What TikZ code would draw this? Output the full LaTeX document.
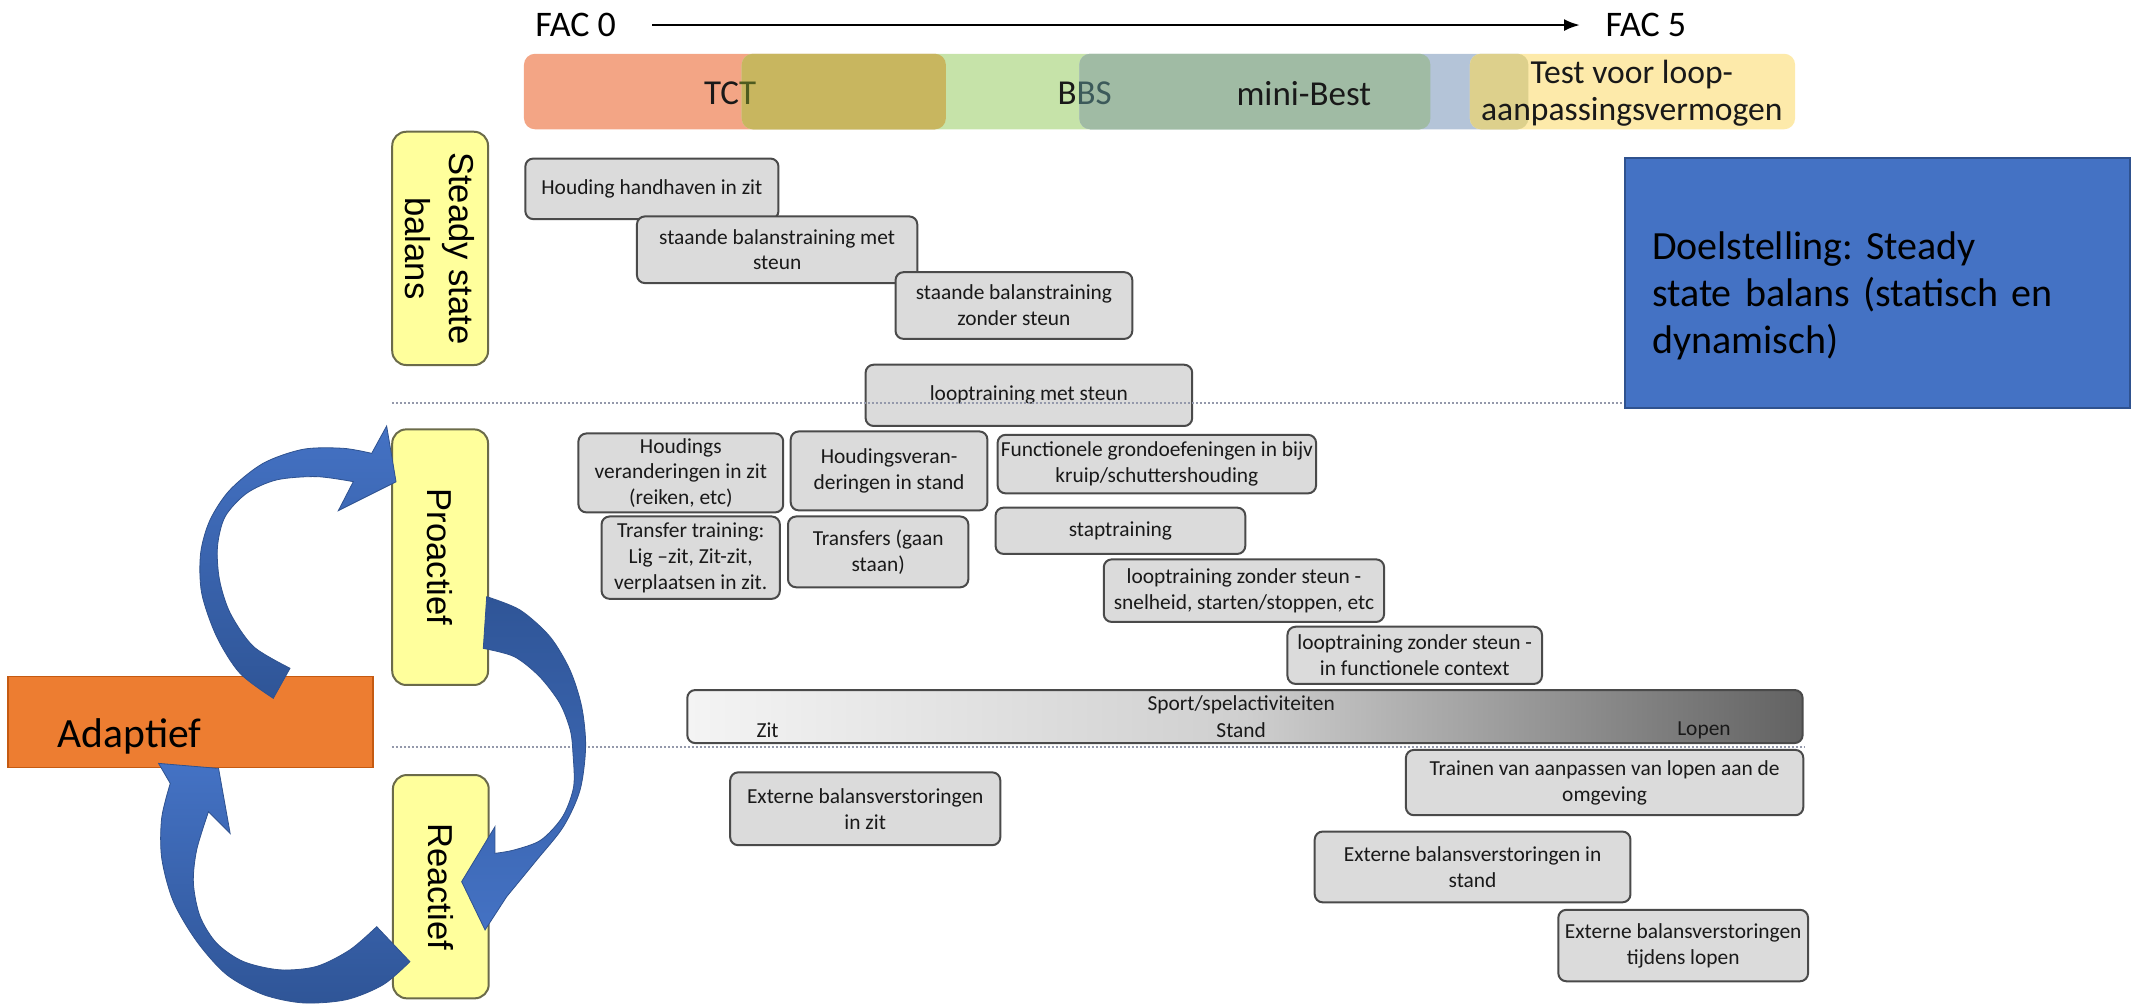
\documentclass[tikz,border=0pt]{standalone}
\usepackage{fontspec}
\setmainfont{Carlito}
\newfontfamily\sidefont{Liberation Sans}
\usetikzlibrary{arrows.meta}
\frenchspacing
\definecolor{barorange}{HTML}{F3A585}
\definecolor{barolive}{HTML}{C8B65F}
\definecolor{bargreen}{HTML}{C6E3A9}
\definecolor{barmix}{HTML}{A0BBA4}
\definecolor{barblue}{HTML}{B4C4D8}
\definecolor{baryellow}{HTML}{FDEAAA}
\definecolor{baryelmix}{HTML}{DDD08C}
\definecolor{tcttext}{HTML}{4E5B1F}
\definecolor{bbstext}{HTML}{3C5A5A}
\definecolor{boxgrey}{HTML}{DBDBDB}
\definecolor{boxedge}{HTML}{4A4A4A}
\definecolor{sideyellow}{HTML}{FFFF9C}
\definecolor{sideedge}{HTML}{6B6B4A}
\definecolor{adaptorange}{HTML}{ED7D31}
\definecolor{adaptedge}{HTML}{C55A11}
\definecolor{goalblue}{HTML}{4472C4}
\definecolor{goaledge}{HTML}{2F528F}
\definecolor{arrowlight}{HTML}{4472C4}
\definecolor{arrowdark}{HTML}{2F5597}
\definecolor{sepgrey}{HTML}{9499AB}
\definecolor{sportlight}{HTML}{F4F4F4}
\definecolor{sportmid}{HTML}{CFCFCF}
\definecolor{sportdark}{HTML}{626262}
\newcommand\gbx[6]{\node[gbox, minimum width={(#4-#2)*0.6805pt}, minimum height={(#5-#3)*0.6805pt}] (#1) at ({(#2+#4)/2},{(#3+#5)/2}) {#6};}
\newcommand\bseg[6]{\node[barseg, fill=#6, minimum width={(#4-#2)*0.6805pt}, minimum height={(#5-#3)*0.6805pt}] (#1) at ({(#2+#4)/2},{(#3+#5)/2}) {};}
\begin{document}
\begin{tikzpicture}[x=0.6805pt, y=-0.6805pt,
  gbox/.style={draw=boxedge, fill=boxgrey, line width=1pt, rounded corners=4pt, align=center, inner sep=0pt, text=black!90, font=\fontsize{10.7}{12.9}\selectfont},
  gtext/.style={inner sep=0pt, text=black!90, font=\fontsize{10.7}{12.9}\selectfont},
  barseg/.style={draw=none, rounded corners=5.5pt, inner sep=0pt},
  bartext/.style={inner sep=0pt, text=black!90, font=\fontsize{17.5}{19}\selectfont},
  factext/.style={inner sep=0pt, anchor=west, font=\fontsize{18}{20}\selectfont},
  facarrow/.style={line width=1.4pt, -{Latex[length=8pt,width=6pt]}},
  sidebox/.style={rotate=-90, draw=sideedge, fill=sideyellow, line width=1pt, rounded corners=7pt, align=center, inner sep=0pt, font=\sidefont\fontsize{17.3}{22}\selectfont},
  adaptbox/.style={draw=adaptedge, fill=adaptorange, line width=0.8pt, inner sep=0pt},
  adapttext/.style={inner sep=0pt, anchor=base west, font=\fontsize{20.8}{24}\selectfont},
  goalbox/.style={draw=goaledge, fill=goalblue, line width=1pt, inner sep=0pt},
  goaltext/.style={inner sep=0pt, anchor=base west, align=left, text width=250pt, font=\fontsize{20}{23.3}\selectfont},
  sepline/.style={draw=sepgrey, line width=1pt, dash pattern=on 1.2pt off 0.8pt},
  blockarrow/.style={draw=goaledge, line width=0.4pt}
]
\useasboundingbox (0,0) rectangle (1568,738);

% ---- test bar ----
\bseg{tct}{385}{39.5}{695}{95}{barorange}
\bseg{bbs}{545}{39.5}{1051}{95}{bargreen}
\bseg{tctbbs}{545}{39.5}{695}{95}{barolive}
\bseg{mbest}{793}{39.5}{1123}{95}{barblue}
\bseg{mbbbs}{793}{39.5}{1051}{95}{barmix}
\bseg{tlav}{1080}{39.5}{1319}{95}{baryellow}
\bseg{tlmb}{1080}{39.5}{1123}{95}{baryelmix}
\node[bartext] (tctlab) at (536.5,68.5) {TC\textcolor{tcttext}{T}};
\node[bartext] (bbslab) at (797,68.5) {B\textcolor{bbstext}{BS}};
\node[bartext] (mblab) at (958,68.5) {mini-Best};
\node[bartext, align=center, font=\fontsize{16.8}{18.4}\selectfont] (tllab) at (1199,68.5) {Test voor loop-\\aanpassingsvermogen};

% ---- FAC axis ----
\node[factext] (fac0) at (393,18.4) {FAC 0};
\node[factext] (fac5) at (1179.4,18.4) {FAC 5};
\draw[facarrow, shorten <=18pt, shorten >=12.5pt] (fac0.east) -- (fac5.west);

% ---- side labels ----
\node[sidebox, minimum width={171.4*0.6805pt}, minimum height={70.4*0.6805pt}] (ssb) at (323.4,182.5) {Steady state\\balans};
\node[sidebox, minimum width={187.8*0.6805pt}, minimum height={70.4*0.6805pt}] (pro) at (323.4,409.4) {Proactief};
\node[sidebox, minimum width={164.1*0.6805pt}, minimum height={70.4*0.6805pt}] (rea) at (323.9,651.5) {Reactief};

% ---- exercise boxes ----
\gbx{b1}{386}{116.5}{572}{161}{Houding handhaven in zit}
\gbx{b2}{468}{159}{674}{208}{staande balanstraining met\\steun}
\gbx{b3}{658}{200}{832}{249}{staande balanstraining\\zonder steun}
\gbx{b4}{636}{268}{876}{313}{looptraining met steun}
\gbx{b5}{425}{318.5}{575.5}{376.5}{Houdings\\veranderingen in zit\\(reiken, etc)}
\gbx{b6}{581}{317}{725.5}{375}{Houdingsveran-\\deringen in stand}
\gbx{b7}{733}{319.5}{967}{362.5}{Functionele grondoefeningen in bijv\\kruip/schuttershouding}
\gbx{b8}{442}{379.5}{573}{440}{Transfer training:\\Lig –zit, Zit-zit,\\verplaatsen in zit.}
\gbx{b9}{579}{379.5}{711.5}{431.5}{Transfers (gaan\\staan)}
\gbx{b10}{731.5}{373}{915}{407}{staptraining}
\gbx{b11}{811}{411}{1017}{457}{looptraining zonder steun -\\snelheid, starten/stoppen, etc}
\gbx{b12}{946}{460.5}{1133}{502.5}{looptraining zonder steun -\\in functionele context}
\node[gbox, left color=sportlight, right color=sportdark, middle color=sportmid, minimum width={819.5*0.6805pt}, minimum height={39*0.6805pt}] (sport) at (914.75,526.5) {};
\node[gtext] (sportlab) at (912,518) {Sport/spelactiviteiten};
\node[gtext] (zitlab) at (564,536.5) {Zit};
\node[gtext] (standlab) at (912,536.5) {Stand};
\node[gtext] (lopenlab) at (1252,536.5) {Lopen};
\gbx{b14}{536.5}{567.5}{735}{621}{Externe balansverstoringen\\in zit}
\gbx{b15}{1033}{551}{1325}{599}{Trainen van aanpassen van lopen aan de\\omgeving}
\gbx{b16}{966}{611}{1198}{663}{Externe balansverstoringen in\\stand}
\gbx{b17}{1145}{668.5}{1328.5}{721}{Externe balansverstoringen\\tijdens lopen}

% ---- separators ----
\coordinate (d1a) at (288,296);
\coordinate (d1b) at (1195,296);
\coordinate (d2a) at (288,549);
\coordinate (d2b) at (1326,549);
\draw[sepline] (d1a) -- (d1b);
\draw[sepline] (d2a) -- (d2b);

% ---- adaptief and goal ----
\node[adaptbox, minimum width={268*0.6805pt}, minimum height={67*0.6805pt}] (adapt) at (140,530.5) {};
\node[adapttext] (adlab) at (42,549) {Adaptief};
\node[goalbox, minimum width={371*0.6805pt}, minimum height={184*0.6805pt}] (goal) at (1379.5,208) {};
\node[goaltext] (goallab) at (1213.6,191) {Doelstelling: Steady\\state balans (statisch en\\dynamisch)};

% ---- curved block arrows ----
\path[blockarrow, top color=arrowlight, bottom color=arrowdark]
  (200.8,513.1) -- plot[smooth] coordinates {(200.8,513.1) (176.3,494.7) (159.2,467.8) (148.2,435.9) (147.4,406.6) (154.3,382.1) (168.9,360) (193.4,340.4) (222.8,330.1) (252.2,329.4) (273.1,333.1)}
  -- (284.1,313) -- (291,354) -- (248.6,375.2) -- (259.6,353.9)
  -- plot[smooth] coordinates {(259.6,353.9) (232.6,350.2) (203.3,352.6) (181.3,362.4) (165.4,379.6) (159.8,401.6) (161.3,426.1) (169.2,450.6) (186.3,475.1) (213.1,491)}
  -- cycle;
\path[blockarrow, top color=arrowdark, bottom color=arrowlight]
  (357.6,438.4) -- plot[smooth] coordinates {(357.6,438.4) (382.1,448.2) (404.1,467.8) (418.8,492.3) (427.4,519.2) (430.3,548.6) (426.2,580.5) (413.9,607.5) (394.3,632) (372.3,658.8)}
  -- (356.4,683.3) -- (339.2,647.8) -- (363.7,607.4) -- (363.7,627)
  -- plot[smooth] coordinates {(363.7,627) (377.9,624.5) (397.5,617.2) (413.4,600) (421.5,578) (421,553.5) (419,536.4) (411.4,516.8) (396.5,497.2) (377.9,482.5) (355.1,476.4)}
  -- cycle;
\path[blockarrow, top color=arrowlight, bottom color=arrowdark]
  (301.2,706.6) -- plot[smooth] coordinates {(301.2,706.6) (281.6,723.5) (254.6,734.5) (222.8,736.9) (193.5,730.8) (166.5,716.1) (144.5,691.6) (127.3,662.2) (118.8,630.4) (118.8,601) (125.1,575.6)}
  -- (116.5,560.9) -- (160.6,564.6) -- (169.1,612.3) -- (153.2,596.4)
  -- plot[smooth] coordinates {(153.2,596.4) (144.5,624.5) (142.1,648.9) (147,673.4) (159.2,693) (178.8,706.5) (205.7,712.6) (232.6,710.1) (257.1,697.9) (276.8,680.9)}
  -- cycle;
\end{tikzpicture}
\end{document}
